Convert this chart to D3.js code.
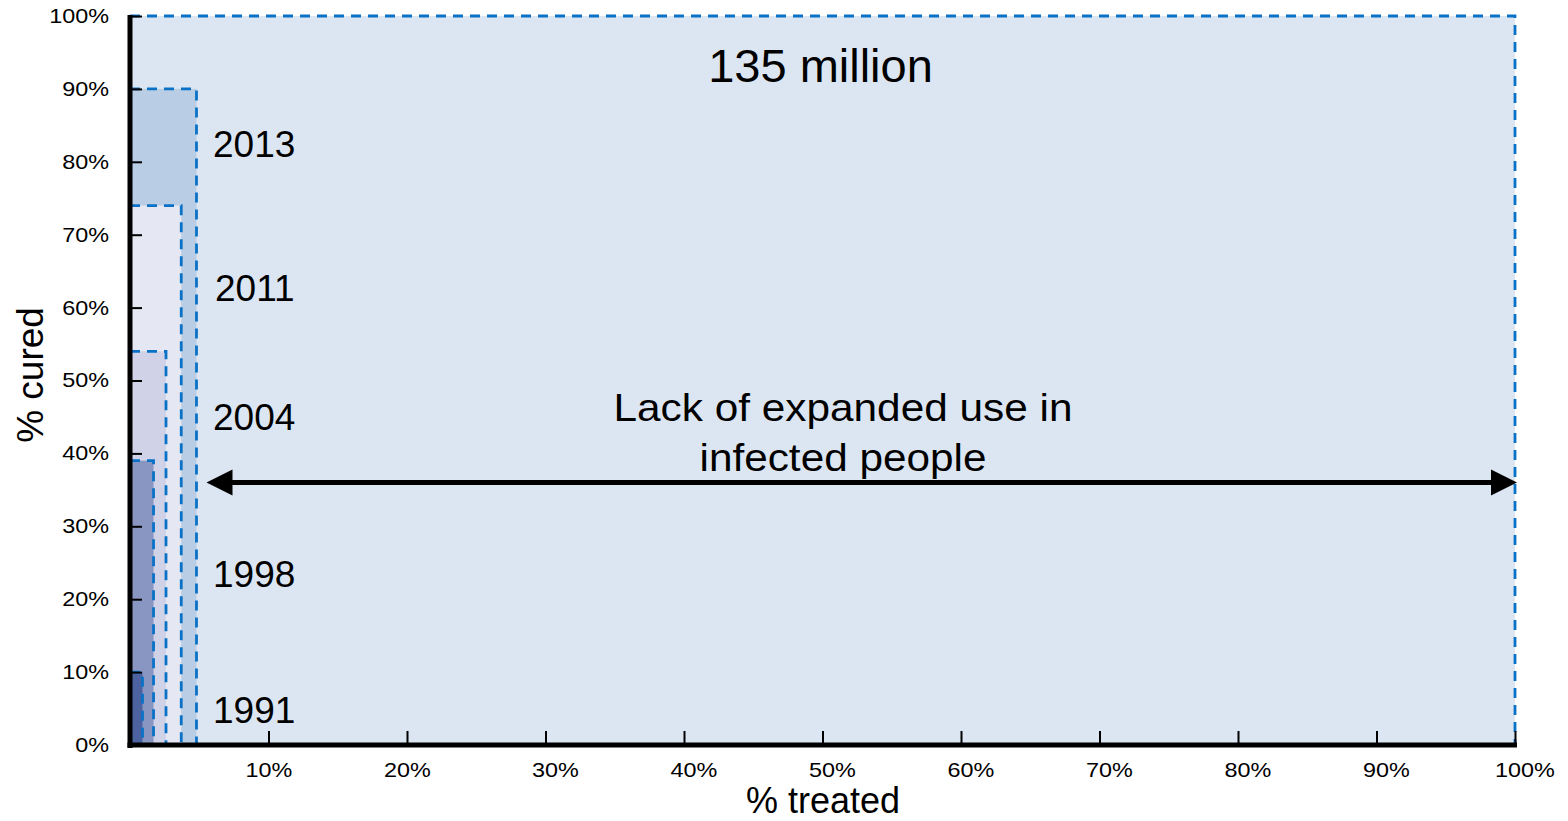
<!DOCTYPE html>
<html>
<head>
<meta charset="utf-8">
<script src="https://cdn.jsdelivr.net/npm/d3@7/dist/d3.min.js"></script>
<style>
  html, body { margin: 0; padding: 0; background: #ffffff; }
  svg { display: block; }
  text { font-family: "Liberation Sans", Arial, Helvetica, sans-serif; fill: #000; }
</style>
</head>
<body>
<svg id="chart" width="1568" height="821"></svg>
<script>
// Treatment milestones: share of infected people treated vs. share cured
const years = ["1991", "1998", "2004", "2011", "2013"];
const pctTreated = [0.9, 1.7, 2.6, 3.7, 4.8];
const pctCured = [10, 39, 54, 74, 90];

// Whole infected population
const totalLabel = "135 million";
const totalTreated = 100;
const totalCured = 100;

// Axis ticks
const xTicks = [10, 20, 30, 40, 50, 60, 70, 80, 90, 100];
const yTicks = [0, 10, 20, 30, 40, 50, 60, 70, 80, 90, 100];

// Annotation text
const gapLines = ["Lack of expanded use in", "infected people"];
const gapArrowAt = 36; // % cured level the gap arrow sits on

// Styling
const yearFills = ["#4d62a0", "#8a96c2", "#d0d3e7", "#e5e8f2", "#b9cde5"];
const totalFill = "#dce6f2";
const dashColor = "#0a72c6";
const yearLabelBaseline = [723, 587, 430, 301, 157];
const yearLabelX = [213, 213, 213, 215, 213];

const svg = d3.select("#chart");

const x = d3.scaleLinear().domain([0, 100]).range([130, 1515]);
const y = d3.scaleLinear().domain([0, 100]).range([745, 16]);

// Population rectangle, then the yearly rectangles from widest to narrowest
const blocks = [{ label: totalLabel, t: totalTreated, c: totalCured, fill: totalFill }]
  .concat(years.map((yr, i) => ({ label: yr, t: pctTreated[i], c: pctCured[i], fill: yearFills[i] })).reverse());

svg.append("g").selectAll("rect")
  .data(blocks)
  .join("rect")
  .attr("x", x(0))
  .attr("y", d => y(d.c))
  .attr("width", d => x(d.t) - x(0))
  .attr("height", d => y(0) - y(d.c))
  .attr("fill", d => d.fill)
  .attr("stroke", dashColor)
  .attr("stroke-width", 2.8)
  .attr("stroke-dasharray", "10,7");

// Year labels beside the stacked rectangles
svg.append("g").selectAll("text")
  .data(years)
  .join("text")
  .attr("x", (d, i) => yearLabelX[i])
  .attr("y", (d, i) => yearLabelBaseline[i])
  .attr("font-size", 37)
  .text(d => d);

// Population label
svg.append("text")
  .attr("x", x(50) - 2)
  .attr("y", 82)
  .attr("text-anchor", "middle")
  .attr("font-size", 47)
  .text(totalLabel);

// Gap annotation text
svg.append("g").selectAll("text")
  .data(gapLines)
  .join("text")
  .attr("x", 843)
  .attr("y", (d, i) => 421 + i * 50)
  .attr("text-anchor", "middle")
  .attr("font-size", 39)
  .attr("textLength", (d, i) => i === 0 ? 459 : 287)
  .attr("lengthAdjust", "spacingAndGlyphs")
  .text(d => d);

// Double-headed arrow spanning the untreated share
const arrowY = y(gapArrowAt);
const leftTip = x(pctTreated[pctTreated.length - 1]) + 10;
const rightTip = x(totalTreated) + 2;
const head = 26;
const arrow = svg.append("g");
arrow.append("line")
  .attr("x1", leftTip + head - 2).attr("x2", rightTip - head + 2)
  .attr("y1", arrowY).attr("y2", arrowY)
  .attr("stroke", "#000").attr("stroke-width", 5);
arrow.append("path")
  .attr("d", `M${leftTip},${arrowY} L${leftTip + head},${arrowY - 13} L${leftTip + head},${arrowY + 13} Z`)
  .attr("fill", "#000");
arrow.append("path")
  .attr("d", `M${rightTip},${arrowY} L${rightTip - head},${arrowY - 13} L${rightTip - head},${arrowY + 13} Z`)
  .attr("fill", "#000");

// Axes
const tickScale = 1.17;
const yAxis = svg.append("g")
  .attr("transform", `translate(${x(0)},0)`)
  .call(d3.axisLeft(y).tickValues(yTicks).tickSize(-12).tickPadding(18).tickFormat(d => d + "%"));
yAxis.select(".domain").remove();
yAxis.selectAll(".tick line").attr("stroke", "#000").attr("stroke-width", 2);
yAxis.selectAll(".tick text")
  .attr("font-size", 20)
  .attr("font-family", null)
  .attr("fill", "#111")
  .attr("transform", `scale(${tickScale},1)`);

const xAxis = svg.append("g")
  .attr("transform", `translate(0,${y(0)})`)
  .call(d3.axisBottom(x).tickValues(xTicks).tickSize(-14).tickPadding(18).tickFormat(d => d + "%"));
xAxis.select(".domain").remove();
xAxis.selectAll(".tick line").attr("stroke", "#000").attr("stroke-width", 2);
xAxis.selectAll(".tick text")
  .attr("font-size", 20)
  .attr("font-family", null)
  .attr("fill", "#111")
  .attr("x", d => d <= 20 ? 0 : 8)
  .attr("transform", `scale(${tickScale},1)`);

// Heavy axis lines
svg.append("line")
  .attr("x1", x(0)).attr("x2", x(0))
  .attr("y1", y(100) - 1).attr("y2", y(0) + 3)
  .attr("stroke", "#000").attr("stroke-width", 5);
svg.append("line")
  .attr("x1", x(0) - 2.5).attr("x2", x(100) + 2)
  .attr("y1", y(0)).attr("y2", y(0))
  .attr("stroke", "#000").attr("stroke-width", 5);

// Axis titles
svg.append("text")
  .attr("x", 823)
  .attr("y", 813)
  .attr("text-anchor", "middle")
  .attr("font-size", 36)
  .text("% treated");
svg.append("text")
  .attr("transform", "translate(43,375) rotate(-90)")
  .attr("text-anchor", "middle")
  .attr("font-size", 37)
  .text("% cured");
</script>
</body>
</html>
